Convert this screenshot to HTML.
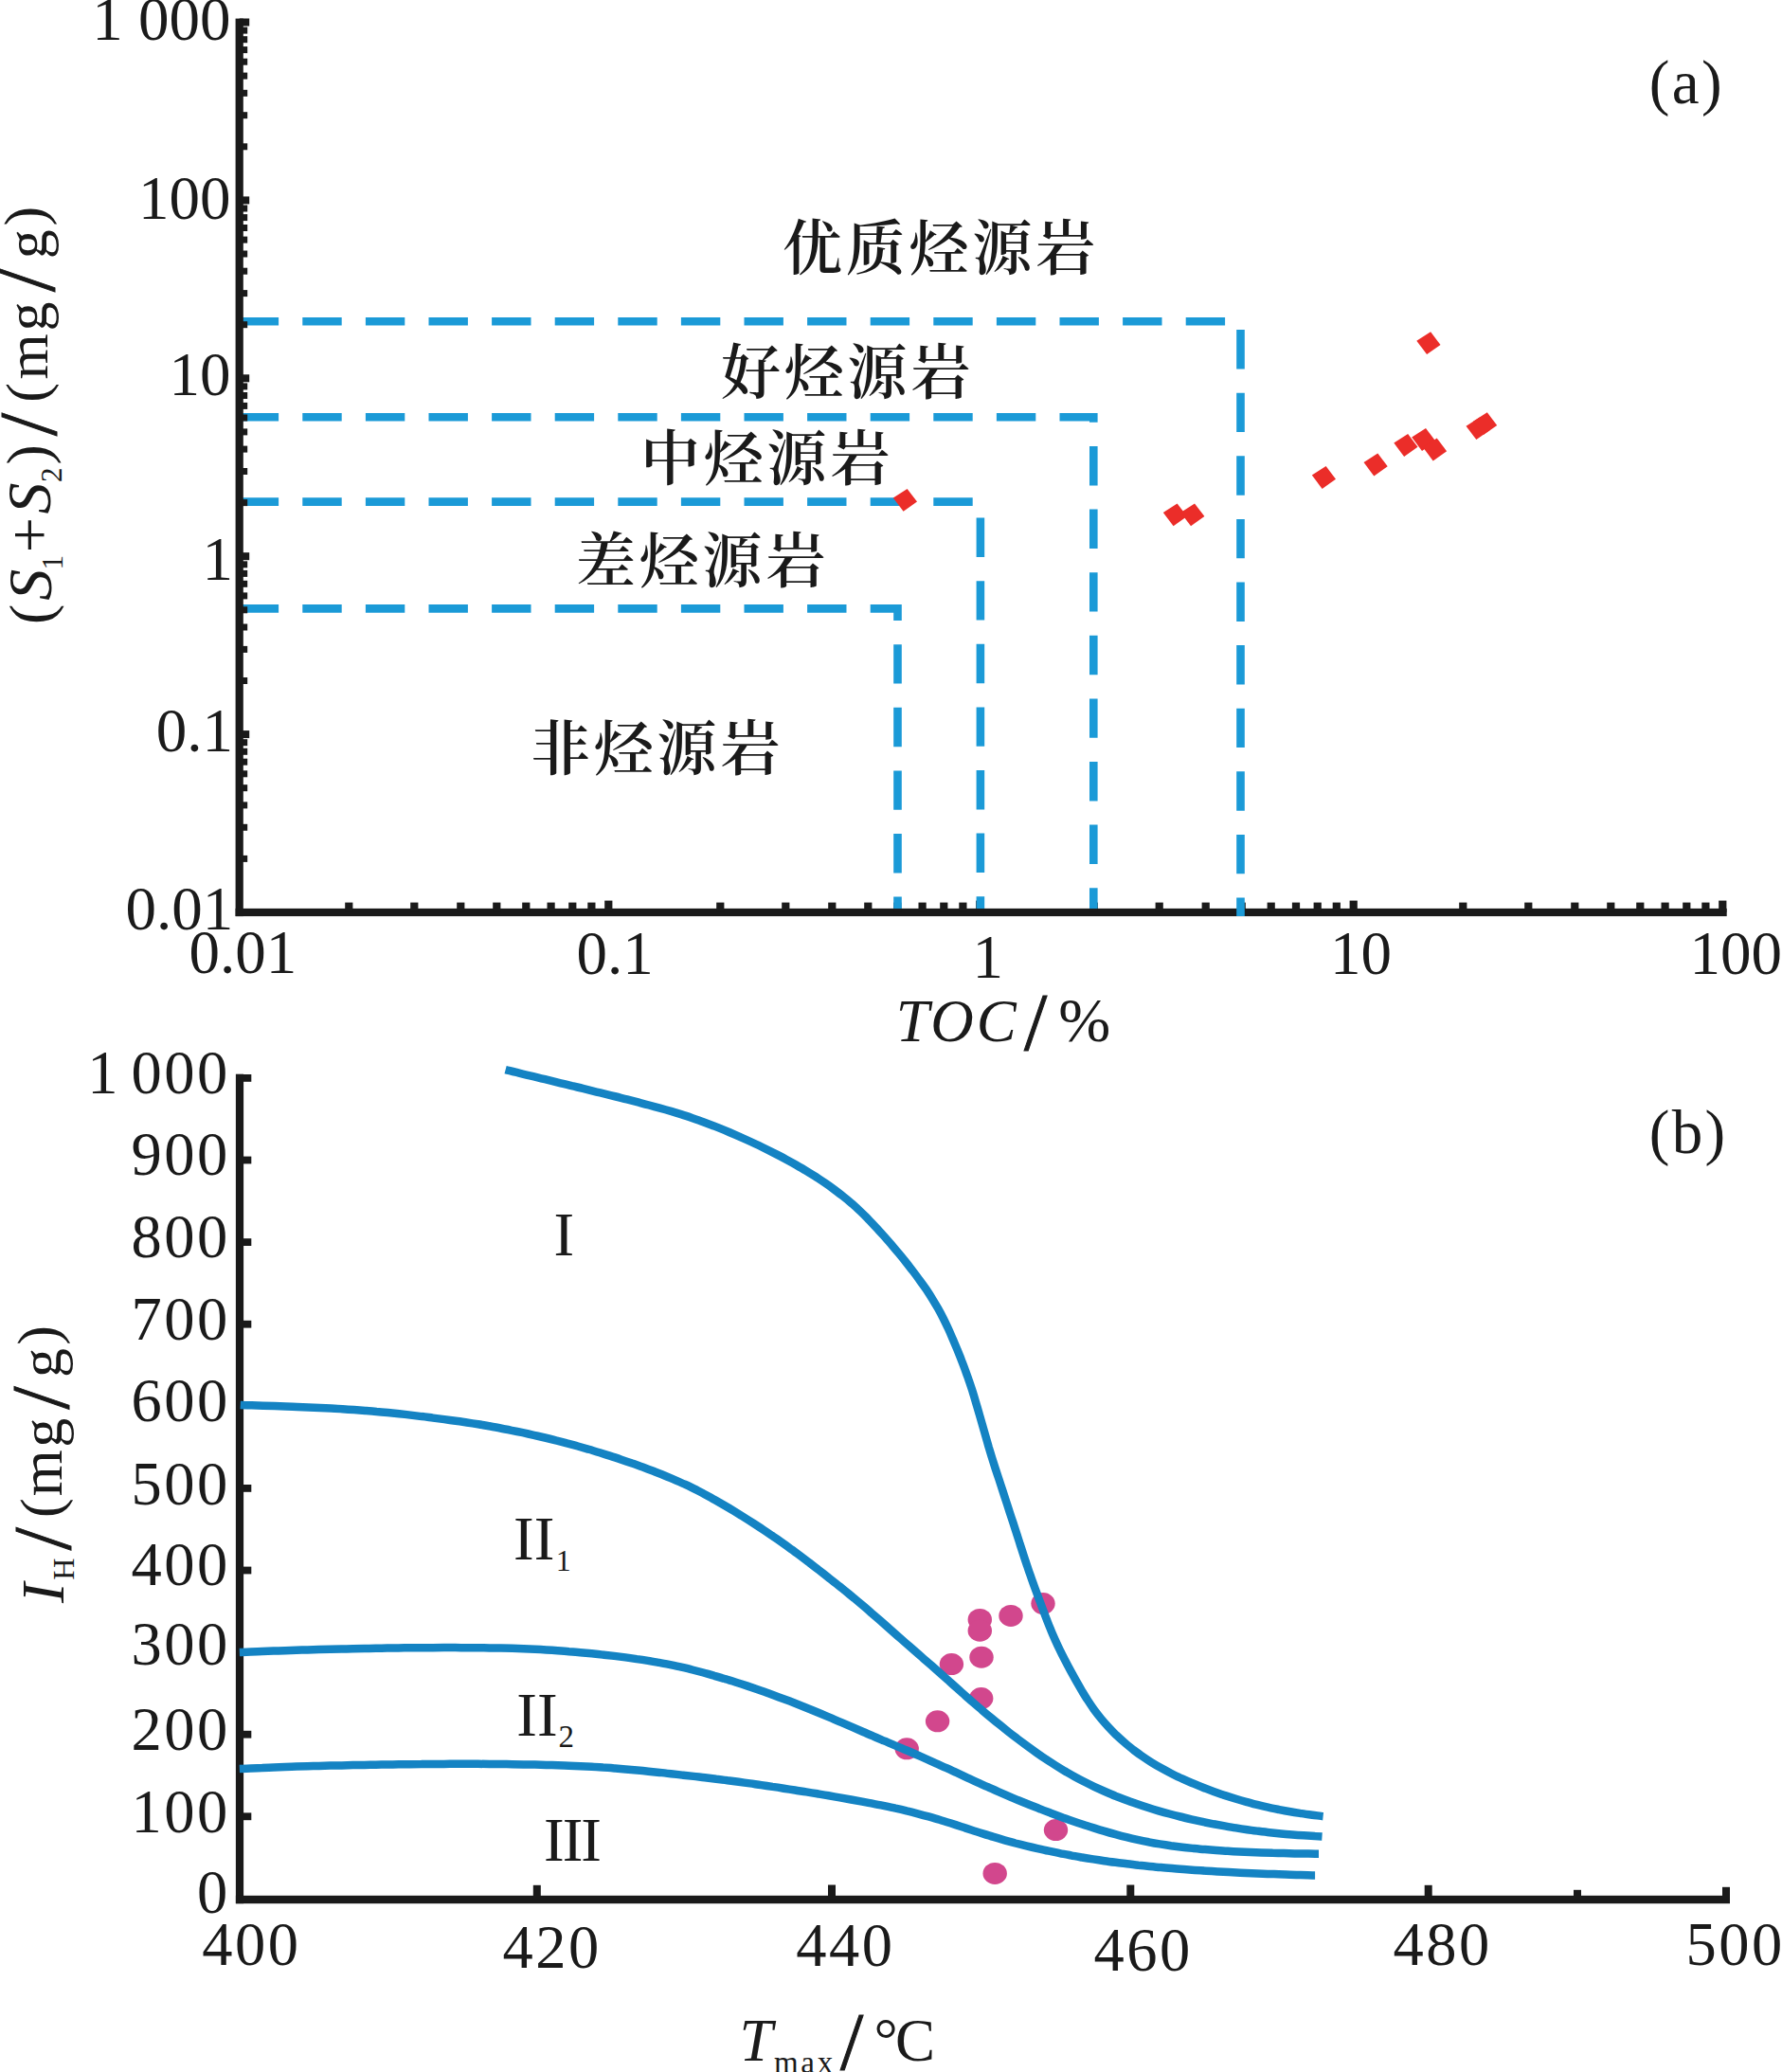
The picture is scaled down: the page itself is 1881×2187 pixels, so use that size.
<!DOCTYPE html>
<html lang="zh"><head><meta charset="utf-8"><title>Source rock evaluation</title>
<style>html,body{margin:0;padding:0;background:#fff}svg{display:block}</style></head>
<body><svg width="1881" height="2187" viewBox="0 0 1881 2187">
<rect width="1881" height="2187" fill="#fff"/>
<g fill="#1a1a1a">
<rect x="248.6" y="958.9" width="1574.1" height="8.2"/>
<rect x="364.2" y="952.6" width="8.2" height="10.3"/>
<rect x="433.2" y="952.6" width="8.2" height="10.3"/>
<rect x="482.2" y="952.6" width="8.2" height="10.3"/>
<rect x="520.2" y="952.6" width="8.2" height="10.3"/>
<rect x="551.2" y="952.6" width="8.2" height="10.3"/>
<rect x="577.5" y="952.6" width="8.2" height="10.3"/>
<rect x="600.2" y="952.6" width="8.2" height="10.3"/>
<rect x="620.3" y="952.6" width="8.2" height="10.3"/>
<rect x="638.2" y="950.6" width="8.2" height="12.3"/>
<rect x="756.2" y="952.6" width="8.2" height="10.3"/>
<rect x="825.2" y="952.6" width="8.2" height="10.3"/>
<rect x="874.2" y="952.6" width="8.2" height="10.3"/>
<rect x="912.2" y="952.6" width="8.2" height="10.3"/>
<rect x="943.2" y="952.6" width="8.2" height="10.3"/>
<rect x="969.5" y="952.6" width="8.2" height="10.3"/>
<rect x="992.2" y="952.6" width="8.2" height="10.3"/>
<rect x="1012.3" y="952.6" width="8.2" height="10.3"/>
<rect x="1030.2" y="950.6" width="8.2" height="12.3"/>
<rect x="1150.6" y="952.6" width="8.2" height="10.3"/>
<rect x="1219.6" y="952.6" width="8.2" height="10.3"/>
<rect x="1268.6" y="952.6" width="8.2" height="10.3"/>
<rect x="1306.6" y="952.6" width="8.2" height="10.3"/>
<rect x="1337.6" y="952.6" width="8.2" height="10.3"/>
<rect x="1363.9" y="952.6" width="8.2" height="10.3"/>
<rect x="1386.6" y="952.6" width="8.2" height="10.3"/>
<rect x="1406.7" y="952.6" width="8.2" height="10.3"/>
<rect x="1424.6" y="950.6" width="8.2" height="12.3"/>
<rect x="1540.2" y="952.6" width="8.2" height="10.3"/>
<rect x="1609.2" y="952.6" width="8.2" height="10.3"/>
<rect x="1658.2" y="952.6" width="8.2" height="10.3"/>
<rect x="1696.2" y="952.6" width="8.2" height="10.3"/>
<rect x="1727.2" y="952.6" width="8.2" height="10.3"/>
<rect x="1753.5" y="952.6" width="8.2" height="10.3"/>
<rect x="1776.2" y="952.6" width="8.2" height="10.3"/>
<rect x="1796.3" y="952.6" width="8.2" height="10.3"/>
<rect x="1814.2" y="950.6" width="8.2" height="12.3"/>
</g>
<g fill="none" stroke="#1b9ad7" stroke-width="8.6" stroke-dasharray="41.4 25.2" stroke-linejoin="miter">
<path d="M252.7 339.3 H1309.5 V967.1"/>
<path d="M252.7 440.2 H1154.3 V958.9"/>
<path d="M252.7 529.6 H1034.9 V958.9"/>
<path d="M252.7 642.4 H947.5 V958.9"/>
</g>
<g fill="#1a1a1a">
<rect x="248.6" y="19.6" width="8.2" height="947.5"/>
<rect x="252.7" y="902.9" width="8.5" height="7"/>
<rect x="252.7" y="869.8" width="8.5" height="7"/>
<rect x="252.7" y="846.4" width="8.5" height="7"/>
<rect x="252.7" y="828.2" width="8.5" height="7"/>
<rect x="252.7" y="813.3" width="8.5" height="7"/>
<rect x="252.7" y="800.7" width="8.5" height="7"/>
<rect x="252.7" y="789.8" width="8.5" height="7"/>
<rect x="252.7" y="780.2" width="8.5" height="7"/>
<rect x="252.7" y="771.1" width="10.5" height="8"/>
<rect x="252.7" y="715.0" width="8.5" height="7"/>
<rect x="252.7" y="681.9" width="8.5" height="7"/>
<rect x="252.7" y="658.5" width="8.5" height="7"/>
<rect x="252.7" y="640.3" width="8.5" height="7"/>
<rect x="252.7" y="625.4" width="8.5" height="7"/>
<rect x="252.7" y="612.8" width="8.5" height="7"/>
<rect x="252.7" y="601.9" width="8.5" height="7"/>
<rect x="252.7" y="592.3" width="8.5" height="7"/>
<rect x="252.7" y="583.2" width="10.5" height="8"/>
<rect x="252.7" y="527.1" width="8.5" height="7"/>
<rect x="252.7" y="494.0" width="8.5" height="7"/>
<rect x="252.7" y="470.6" width="8.5" height="7"/>
<rect x="252.7" y="452.4" width="8.5" height="7"/>
<rect x="252.7" y="437.5" width="8.5" height="7"/>
<rect x="252.7" y="424.9" width="8.5" height="7"/>
<rect x="252.7" y="414.0" width="8.5" height="7"/>
<rect x="252.7" y="404.4" width="8.5" height="7"/>
<rect x="252.7" y="395.3" width="10.5" height="8"/>
<rect x="252.7" y="339.2" width="8.5" height="7"/>
<rect x="252.7" y="306.1" width="8.5" height="7"/>
<rect x="252.7" y="282.7" width="8.5" height="7"/>
<rect x="252.7" y="264.5" width="8.5" height="7"/>
<rect x="252.7" y="249.6" width="8.5" height="7"/>
<rect x="252.7" y="237.0" width="8.5" height="7"/>
<rect x="252.7" y="226.1" width="8.5" height="7"/>
<rect x="252.7" y="216.5" width="8.5" height="7"/>
<rect x="252.7" y="207.4" width="10.5" height="8"/>
<rect x="252.7" y="151.3" width="8.5" height="7"/>
<rect x="252.7" y="118.2" width="8.5" height="7"/>
<rect x="252.7" y="94.8" width="8.5" height="7"/>
<rect x="252.7" y="76.6" width="8.5" height="7"/>
<rect x="252.7" y="61.7" width="8.5" height="7"/>
<rect x="252.7" y="49.1" width="8.5" height="7"/>
<rect x="252.7" y="38.2" width="8.5" height="7"/>
<rect x="252.7" y="28.6" width="8.5" height="7"/>
<rect x="252.7" y="19.5" width="10.5" height="8"/>
</g>
<g fill="#eb2d29">
<polygon points="1510.1,350.2 1520.5,363.9 1506.1,374.1 1495.3,359.7"/>
<polygon points="1562.3,440.2 1572.7,453.9 1558.3,464.1 1547.5,449.7"/>
<polygon points="1569.8,435.2 1580.2,448.9 1565.8,459.1 1555.0,444.7"/>
<polygon points="1486.1,458.1 1496.5,471.8 1482.1,482.0 1471.3,467.6"/>
<polygon points="1505.0,452.0 1515.4,465.7 1501.0,475.9 1490.2,461.5"/>
<polygon points="1516.7,462.6 1527.1,476.3 1512.7,486.5 1501.9,472.1"/>
<polygon points="1454.3,478.6 1464.7,492.3 1450.3,502.5 1439.5,488.1"/>
<polygon points="1399.6,492.0 1410.0,505.7 1395.6,515.9 1384.8,501.5"/>
<polygon points="1242.6,531.4 1253.0,545.1 1238.6,555.3 1227.8,540.9"/>
<polygon points="1261.0,531.4 1271.4,545.1 1257.0,555.3 1246.2,540.9"/>
<polygon points="957.6,515.9 968.0,529.6 953.6,539.8 942.8,525.4"/>
</g>
<g fill="#1a1a1a" font-family="'Liberation Serif', serif" font-size="65px">
<text x="243.6" y="41.5" text-anchor="end" >1 000</text>
<text x="243.6" y="230.6" text-anchor="end" >100</text>
<text x="243.6" y="417.2" text-anchor="end" >10</text>
<text x="246.0" y="611.9" text-anchor="end" >1</text>
<text x="246.0" y="792.9" text-anchor="end" >0.1</text>
<text x="246.3" y="981.4" text-anchor="end" >0.01</text>
<text x="199.5" y="1026.7" text-anchor="start" >0.01</text>
<text x="608.5" y="1027.7" text-anchor="start" >0.1</text>
<text x="1026.5" y="1031.7" text-anchor="start" >1</text>
<text x="1404.0" y="1027.7" text-anchor="start" >10</text>
<text x="1783.5" y="1028.3" text-anchor="start" >100</text>
</g>
<g fill="#1a1a1a" font-family="'Liberation Serif', serif" font-size="65px" letter-spacing="2.3">
<text x="1740.8" y="108.8" text-anchor="start" >(a)</text>
<text x="1740.8" y="1217.2" text-anchor="start" >(b)</text>
</g>
<g fill="#1a1a1a" font-family="'Liberation Serif', serif" font-size="64.5px" letter-spacing="2.5">
<text x="242.8" y="1153.9" text-anchor="end" word-spacing="-7">1 000</text>
<text x="242.8" y="1240.3" text-anchor="end" >900</text>
<text x="242.8" y="1326.7" text-anchor="end" >800</text>
<text x="242.8" y="1414.3" text-anchor="end" >700</text>
<text x="242.8" y="1499.8" text-anchor="end" >600</text>
<text x="242.8" y="1588.2" text-anchor="end" >500</text>
<text x="242.8" y="1673.1" text-anchor="end" >400</text>
<text x="242.8" y="1757.2" text-anchor="end" >300</text>
<text x="242.8" y="1846.5" text-anchor="end" >200</text>
<text x="242.8" y="1934.3" text-anchor="end" >100</text>
<text x="242.8" y="2019.3" text-anchor="end" >0</text>
<text x="213.3" y="2073.7" text-anchor="start" >400</text>
<text x="530.5" y="2077.3" text-anchor="start" >420</text>
<text x="840.3" y="2075.0" text-anchor="start" >440</text>
<text x="1154.6" y="2080.0" text-anchor="start" >460</text>
<text x="1470.6" y="2074.3" text-anchor="start" >480</text>
<text x="1779.6" y="2074.3" text-anchor="start" >500</text>
</g>
<g fill="#1a1a1a" font-family="'Liberation Serif', serif" font-size="65px">
<text x="584.5" y="1325.0" text-anchor="start" >I</text>
<text x="542.0" y="1645.5" text-anchor="start" >II</text>
<text x="545.3" y="1831.6" text-anchor="start" >II</text>
<text x="574.0" y="1964.0" text-anchor="start" letter-spacing="-2">III</text>
<text x="586.8" y="1657.6" text-anchor="start" font-size="32px">1</text>
<text x="589.5" y="1844.1" text-anchor="start" font-size="33px">2</text>
</g>
<g fill="#1a1a1a" font-family="'Liberation Serif', 'Noto Serif CJK SC', serif" font-size="63px" font-weight="600" letter-spacing="3.8">
<text x="826.0" y="284.0" text-anchor="start" >优质烃源岩</text>
<text x="761.0" y="415.0" text-anchor="start" >好烃源岩</text>
<text x="676.0" y="505.5" text-anchor="start" >中烃源岩</text>
<text x="608.0" y="614.0" text-anchor="start" >差烃源岩</text>
<text x="560.0" y="811.5" text-anchor="start" >非烃源岩</text>
</g>
<g fill="#1a1a1a" font-family="'Liberation Serif', serif">
<text x="945.7" y="1099.3" font-size="63px" font-style="italic">T</text>
<text x="982.2" y="1099.0" font-size="63px" font-style="italic">O</text>
<text x="1030.8" y="1098.8" font-size="63px" font-style="italic">C</text>
<text x="1081.0" y="1108.3" font-size="87px" stroke="#1a1a1a" stroke-width="1">/</text>
<text x="1117.3" y="1099.3" font-size="66px">%</text>
<text x="780.5" y="2175.1" font-size="63px" font-style="italic">T</text>
<text x="887.1" y="2184.0" font-size="87px" stroke="#1a1a1a" stroke-width="1">/</text>
<text x="922.4" y="2174.4" font-size="63px">°</text>
<text x="944.9" y="2175.2" font-size="63px">C</text>
<text x="817" y="2187.5" font-size="33px" letter-spacing="2.7">max</text>
</g>
<g transform="rotate(-90)" fill="#1a1a1a" font-family="'Liberation Serif', serif">
<text x="-659.0" y="53.5" font-size="64px">(</text>
<text x="-633.7" y="53.5" font-size="66px" font-style="italic">S</text>
<text x="-601.4" y="66.0" font-size="31px">1</text>
<text x="-583.2" y="53.4" font-size="66px">+</text>
<text x="-542.6" y="52.9" font-size="66px" font-style="italic">S</text>
<text x="-508.9" y="64.5" font-size="31px">2</text>
<text x="-490.6" y="51.4" font-size="64px">)</text>
<text x="-460.0" y="59.3" font-size="87px" stroke="#1a1a1a" stroke-width="1">/</text>
<text x="-424.8" y="49.3" font-size="62px">(</text>
<text x="-400.4" y="49.9" font-size="62px">m</text>
<text x="-349.5" y="49.2" font-size="62px">g</text>
<text x="-307.9" y="57.0" font-size="87px" stroke="#1a1a1a" stroke-width="1">/</text>
<text x="-273.3" y="49.0" font-size="62px">g</text>
<text x="-238.4" y="46.7" font-size="62px">)</text>
</g>
<g transform="rotate(-90)" fill="#1a1a1a" font-family="'Liberation Serif', serif">
<text x="-1692.0" y="66.5" font-size="64px" font-style="italic">I</text>
<text x="-1667.8" y="78.0" font-size="32px">H</text>
<text x="-1636.3" y="74.2" font-size="87px" stroke="#1a1a1a" stroke-width="1">/</text>
<text x="-1601.9" y="64.1" font-size="62px">(</text>
<text x="-1579.3" y="65.4" font-size="63px">m</text>
<text x="-1527.8" y="65.0" font-size="62px">g</text>
<text x="-1487.5" y="72.1" font-size="87px" stroke="#1a1a1a" stroke-width="1">/</text>
<text x="-1454.0" y="64.2" font-size="62px">g</text>
<text x="-1419.7" y="61.2" font-size="62px">)</text>
</g>
<g fill="#d2478d">
<ellipse cx="1101.0" cy="1692.6" rx="12.7" ry="11.5"/>
<ellipse cx="1067.0" cy="1705.4" rx="12.7" ry="11.5"/>
<ellipse cx="1034.3" cy="1709.4" rx="12.7" ry="11.5"/>
<ellipse cx="1034.3" cy="1721.2" rx="12.7" ry="11.5"/>
<ellipse cx="1004.4" cy="1756.6" rx="12.7" ry="11.5"/>
<ellipse cx="1036.0" cy="1749.2" rx="12.7" ry="11.5"/>
<ellipse cx="1035.7" cy="1792.6" rx="12.7" ry="11.5"/>
<ellipse cx="989.6" cy="1816.8" rx="12.7" ry="11.5"/>
<ellipse cx="957.2" cy="1845.8" rx="12.7" ry="11.5"/>
<ellipse cx="1114.5" cy="1931.6" rx="12.7" ry="11.5"/>
<ellipse cx="1050.2" cy="1977.4" rx="12.7" ry="11.5"/>
</g>
<g fill="#1a1a1a">
<rect x="248.9" y="1133.7" width="8.2" height="875.5"/>
<rect x="248.9" y="2000.8" width="1577.1" height="8.4"/>
<rect x="253.0" y="1913.4" width="12.3" height="7.8"/>
<rect x="253.0" y="1826.8" width="12.3" height="7.8"/>
<rect x="253.0" y="1653.6" width="12.3" height="7.8"/>
<rect x="253.0" y="1567.0" width="12.3" height="7.8"/>
<rect x="253.0" y="1393.8" width="12.3" height="7.8"/>
<rect x="253.0" y="1307.2" width="12.3" height="7.8"/>
<rect x="253.0" y="1220.6" width="12.3" height="7.8"/>
<rect x="253.0" y="1134.0" width="12.3" height="7.8"/>
<rect x="562.8" y="1989.8" width="8" height="15.0"/>
<rect x="874.0" y="1989.5" width="8" height="15.3"/>
<rect x="1189.3" y="1989.5" width="8" height="15.3"/>
<rect x="1503.7" y="1989.8" width="8" height="15.0"/>
<rect x="1661.0" y="1994.8" width="8" height="10.0"/>
<rect x="1818.0" y="1991.8" width="8" height="13.0"/>
</g>
<g fill="none" stroke="#1483c3" stroke-width="8.5">
<path d="M533.6 1129.1 C535.5 1129.6 541.4 1131.0 545.3 1131.9 C549.1 1132.9 553.0 1133.8 556.9 1134.8 C560.8 1135.7 564.7 1136.7 568.6 1137.6 C572.5 1138.5 576.4 1139.5 580.2 1140.4 C584.1 1141.4 588.0 1142.3 591.9 1143.3 C595.8 1144.2 599.7 1145.1 603.6 1146.1 C607.5 1147.0 611.3 1148.0 615.2 1148.9 C619.1 1149.9 623.0 1150.8 626.9 1151.8 C630.8 1152.7 634.7 1153.7 638.5 1154.6 C642.4 1155.6 646.3 1156.5 650.2 1157.5 C654.1 1158.5 658.0 1159.4 661.8 1160.4 C665.7 1161.4 669.6 1162.4 673.5 1163.4 C677.3 1164.4 681.2 1165.4 685.1 1166.5 C688.9 1167.5 692.8 1168.6 696.6 1169.6 C700.5 1170.7 704.3 1171.8 708.2 1172.9 C712.0 1174.1 715.8 1175.2 719.6 1176.4 C723.4 1177.6 727.2 1178.9 731.0 1180.2 C734.8 1181.5 738.6 1182.8 742.3 1184.2 C746.1 1185.6 749.8 1187.0 753.5 1188.4 C757.3 1189.9 761.0 1191.4 764.7 1192.9 C768.4 1194.5 772.0 1196.0 775.7 1197.6 C779.4 1199.2 783.0 1200.8 786.7 1202.5 C790.3 1204.1 794.0 1205.8 797.6 1207.5 C801.2 1209.2 804.8 1210.9 808.4 1212.7 C812.0 1214.5 815.6 1216.3 819.1 1218.1 C822.7 1219.9 826.2 1221.8 829.7 1223.7 C833.3 1225.6 836.8 1227.5 840.2 1229.5 C843.7 1231.5 847.2 1233.5 850.6 1235.6 C854.0 1237.7 857.4 1239.8 860.8 1241.9 C864.1 1244.1 867.5 1246.3 870.8 1248.6 C874.1 1250.8 877.3 1253.1 880.5 1255.5 C883.7 1257.9 886.9 1260.3 890.0 1262.8 C893.2 1265.3 896.2 1267.8 899.3 1270.4 C902.3 1273.1 905.2 1275.8 908.1 1278.5 C911.0 1281.2 913.8 1284.1 916.6 1286.9 C919.4 1289.8 922.1 1292.7 924.8 1295.6 C927.6 1298.6 930.2 1301.5 932.9 1304.5 C935.5 1307.5 938.2 1310.5 940.8 1313.5 C943.4 1316.6 946.0 1319.6 948.5 1322.7 C951.1 1325.8 953.6 1328.9 956.1 1332.0 C958.6 1335.1 961.0 1338.3 963.5 1341.5 C965.9 1344.6 968.3 1347.8 970.6 1351.1 C973.0 1354.3 975.3 1357.5 977.6 1360.8 C979.8 1364.1 982.0 1367.5 984.1 1370.9 C986.2 1374.3 988.2 1377.7 990.2 1381.2 C992.1 1384.6 994.0 1388.2 995.8 1391.7 C997.6 1395.3 999.3 1398.9 1001.0 1402.5 C1002.7 1406.2 1004.2 1409.8 1005.8 1413.5 C1007.4 1417.2 1008.9 1420.9 1010.5 1424.6 C1012.0 1428.3 1013.5 1432.0 1014.9 1435.7 C1016.3 1439.4 1017.8 1443.2 1019.1 1446.9 C1020.5 1450.7 1021.9 1454.4 1023.1 1458.2 C1024.4 1462.0 1025.7 1465.8 1026.9 1469.6 C1028.1 1473.4 1029.2 1477.3 1030.3 1481.1 C1031.5 1484.9 1032.6 1488.8 1033.7 1492.6 C1034.8 1496.5 1035.9 1500.3 1037.0 1504.2 C1038.1 1508.0 1039.2 1511.9 1040.3 1515.7 C1041.4 1519.5 1042.5 1523.4 1043.6 1527.2 C1044.8 1531.0 1045.9 1534.9 1047.1 1538.7 C1048.3 1542.5 1049.5 1546.3 1050.7 1550.1 C1052.0 1553.9 1053.2 1557.7 1054.5 1561.5 C1055.7 1565.3 1057.0 1569.1 1058.2 1572.9 C1059.4 1576.7 1060.7 1580.5 1061.9 1584.3 C1063.2 1588.1 1064.4 1592.0 1065.6 1595.8 C1066.9 1599.6 1068.1 1603.4 1069.4 1607.2 C1070.6 1611.0 1071.8 1614.8 1073.1 1618.6 C1074.3 1622.4 1075.5 1626.2 1076.7 1630.0 C1078.0 1633.8 1079.2 1637.6 1080.4 1641.4 C1081.6 1645.2 1082.9 1649.0 1084.2 1652.8 C1085.4 1656.6 1086.7 1660.4 1088.1 1664.1 C1089.4 1667.9 1090.8 1671.7 1092.1 1675.4 C1093.5 1679.2 1094.9 1682.9 1096.3 1686.7 C1097.7 1690.4 1099.1 1694.2 1100.5 1697.9 C1101.9 1701.7 1103.3 1705.4 1104.7 1709.1 C1106.2 1712.9 1107.6 1716.6 1109.2 1720.3 C1110.7 1724.0 1112.3 1727.6 1113.9 1731.3 C1115.5 1734.9 1117.2 1738.5 1119.0 1742.1 C1120.7 1745.7 1122.6 1749.3 1124.4 1752.8 C1126.2 1756.4 1128.1 1759.9 1130.0 1763.4 C1131.9 1766.9 1133.9 1770.4 1135.8 1773.9 C1137.8 1777.4 1139.8 1780.9 1141.8 1784.3 C1143.9 1787.8 1145.9 1791.2 1148.1 1794.5 C1150.3 1797.9 1152.5 1801.2 1154.8 1804.4 C1157.2 1807.6 1159.6 1810.7 1162.1 1813.8 C1164.7 1816.9 1167.3 1819.9 1170.0 1822.8 C1172.7 1825.7 1175.5 1828.6 1178.3 1831.4 C1181.2 1834.1 1184.2 1836.8 1187.2 1839.4 C1190.2 1842.0 1193.3 1844.5 1196.4 1847.0 C1199.6 1849.4 1202.8 1851.8 1206.1 1854.0 C1209.4 1856.3 1212.7 1858.5 1216.1 1860.6 C1219.5 1862.7 1222.9 1864.7 1226.4 1866.6 C1229.9 1868.6 1233.4 1870.4 1237.0 1872.2 C1240.6 1874.0 1244.2 1875.8 1247.8 1877.4 C1251.4 1879.1 1255.1 1880.7 1258.8 1882.2 C1262.5 1883.8 1266.2 1885.3 1269.9 1886.7 C1273.6 1888.2 1277.4 1889.6 1281.1 1890.9 C1284.9 1892.3 1288.7 1893.6 1292.4 1894.9 C1296.2 1896.1 1300.0 1897.3 1303.9 1898.5 C1307.7 1899.7 1311.5 1900.8 1315.4 1901.8 C1319.2 1902.9 1323.1 1903.9 1327.0 1904.9 C1330.9 1905.9 1334.7 1906.8 1338.6 1907.6 C1342.5 1908.5 1346.5 1909.3 1350.4 1910.1 C1354.3 1910.9 1358.2 1911.6 1362.1 1912.2 C1366.0 1912.9 1369.9 1913.5 1373.7 1914.1 C1377.6 1914.7 1381.4 1915.2 1385.2 1915.7 C1389.1 1916.2 1394.7 1917.0 1396.6 1917.2"/>
<path d="M253.7 1483.0 C255.7 1483.1 261.7 1483.2 265.7 1483.3 C269.7 1483.4 273.7 1483.6 277.7 1483.7 C281.7 1483.8 285.7 1483.9 289.7 1484.0 C293.7 1484.2 297.7 1484.3 301.7 1484.5 C305.7 1484.6 309.7 1484.7 313.7 1484.9 C317.7 1485.1 321.7 1485.2 325.7 1485.4 C329.7 1485.6 333.7 1485.8 337.7 1486.0 C341.6 1486.2 345.6 1486.4 349.6 1486.6 C353.6 1486.8 357.6 1487.0 361.6 1487.3 C365.6 1487.5 369.6 1487.8 373.6 1488.0 C377.6 1488.3 381.6 1488.6 385.6 1488.9 C389.5 1489.2 393.5 1489.5 397.5 1489.9 C401.5 1490.2 405.5 1490.6 409.4 1491.0 C413.4 1491.4 417.4 1491.8 421.4 1492.2 C425.4 1492.7 429.3 1493.1 433.3 1493.6 C437.3 1494.1 441.2 1494.6 445.2 1495.1 C449.2 1495.5 453.1 1496.1 457.1 1496.6 C461.1 1497.1 465.1 1497.6 469.0 1498.1 C473.0 1498.7 476.9 1499.2 480.9 1499.8 C484.9 1500.3 488.8 1500.9 492.8 1501.5 C496.7 1502.1 500.7 1502.7 504.6 1503.3 C508.6 1503.9 512.5 1504.6 516.5 1505.3 C520.4 1506.0 524.3 1506.7 528.3 1507.5 C532.2 1508.2 536.1 1509.0 540.0 1509.8 C543.9 1510.6 547.9 1511.4 551.8 1512.2 C555.7 1513.1 559.6 1513.9 563.5 1514.8 C567.4 1515.7 571.3 1516.6 575.2 1517.5 C579.1 1518.4 583.0 1519.4 586.8 1520.4 C590.7 1521.3 594.6 1522.3 598.4 1523.4 C602.3 1524.4 606.2 1525.5 610.0 1526.5 C613.9 1527.6 617.7 1528.7 621.5 1529.8 C625.4 1531.0 629.2 1532.1 633.0 1533.3 C636.8 1534.5 640.7 1535.7 644.5 1536.9 C648.3 1538.1 652.1 1539.4 655.9 1540.7 C659.6 1541.9 663.4 1543.2 667.2 1544.6 C671.0 1545.9 674.7 1547.3 678.5 1548.6 C682.2 1550.0 686.0 1551.4 689.7 1552.8 C693.4 1554.3 697.2 1555.7 700.9 1557.2 C704.6 1558.7 708.3 1560.3 711.9 1561.8 C715.6 1563.4 719.2 1565.1 722.9 1566.7 C726.5 1568.4 730.1 1570.1 733.7 1571.9 C737.2 1573.7 740.8 1575.5 744.3 1577.4 C747.8 1579.3 751.3 1581.2 754.8 1583.2 C758.3 1585.2 761.7 1587.2 765.2 1589.2 C768.6 1591.2 772.1 1593.3 775.5 1595.3 C778.9 1597.4 782.3 1599.5 785.7 1601.7 C789.1 1603.8 792.4 1605.9 795.8 1608.1 C799.2 1610.3 802.5 1612.5 805.8 1614.7 C809.2 1616.9 812.5 1619.2 815.8 1621.4 C819.1 1623.7 822.3 1626.0 825.6 1628.3 C828.9 1630.6 832.1 1632.9 835.3 1635.3 C838.6 1637.6 841.8 1640.0 845.0 1642.4 C848.2 1644.8 851.4 1647.2 854.6 1649.6 C857.7 1652.1 860.9 1654.5 864.1 1657.0 C867.2 1659.4 870.4 1661.9 873.5 1664.3 C876.7 1666.8 879.8 1669.3 882.9 1671.8 C886.1 1674.3 889.2 1676.8 892.3 1679.3 C895.4 1681.8 898.5 1684.4 901.6 1686.9 C904.6 1689.5 907.7 1692.1 910.7 1694.6 C913.8 1697.2 916.8 1699.8 919.8 1702.5 C922.9 1705.1 925.9 1707.7 928.9 1710.3 C931.9 1713.0 934.9 1715.6 937.9 1718.3 C940.9 1720.9 943.9 1723.6 946.9 1726.2 C949.9 1728.8 952.9 1731.5 955.9 1734.1 C958.9 1736.7 962.0 1739.4 965.0 1742.0 C968.0 1744.6 971.0 1747.2 974.0 1749.9 C977.1 1752.5 980.1 1755.1 983.1 1757.7 C986.1 1760.4 989.1 1763.0 992.1 1765.7 C995.1 1768.3 998.0 1771.0 1001.0 1773.7 C1004.0 1776.4 1007.0 1779.0 1009.9 1781.7 C1012.9 1784.4 1015.9 1787.1 1018.9 1789.7 C1021.9 1792.4 1024.9 1795.0 1027.9 1797.6 C1030.9 1800.2 1033.9 1802.8 1037.0 1805.4 C1040.0 1808.0 1043.1 1810.6 1046.2 1813.1 C1049.3 1815.7 1052.3 1818.2 1055.5 1820.7 C1058.6 1823.2 1061.7 1825.7 1064.8 1828.2 C1068.0 1830.7 1071.2 1833.1 1074.3 1835.5 C1077.5 1837.9 1080.7 1840.3 1083.9 1842.7 C1087.2 1845.1 1090.4 1847.4 1093.7 1849.7 C1096.9 1852.0 1100.2 1854.3 1103.6 1856.5 C1106.9 1858.7 1110.2 1860.9 1113.6 1863.0 C1117.0 1865.1 1120.4 1867.2 1123.8 1869.3 C1127.3 1871.3 1130.7 1873.3 1134.2 1875.2 C1137.7 1877.1 1141.2 1879.0 1144.8 1880.8 C1148.3 1882.6 1151.9 1884.4 1155.5 1886.1 C1159.2 1887.8 1162.8 1889.4 1166.4 1891.0 C1170.1 1892.6 1173.8 1894.2 1177.5 1895.7 C1181.2 1897.1 1184.9 1898.6 1188.7 1900.0 C1192.4 1901.4 1196.2 1902.7 1200.0 1904.0 C1203.7 1905.3 1207.5 1906.6 1211.3 1907.8 C1215.1 1909.0 1219.0 1910.2 1222.8 1911.3 C1226.6 1912.4 1230.5 1913.5 1234.3 1914.5 C1238.2 1915.6 1242.1 1916.6 1245.9 1917.5 C1249.8 1918.5 1253.7 1919.4 1257.6 1920.3 C1261.5 1921.2 1265.4 1922.0 1269.3 1922.9 C1273.2 1923.7 1277.1 1924.5 1281.1 1925.3 C1285.0 1926.0 1288.9 1926.7 1292.9 1927.4 C1296.8 1928.1 1300.7 1928.8 1304.7 1929.4 C1308.6 1930.1 1312.6 1930.7 1316.5 1931.2 C1320.5 1931.8 1324.5 1932.3 1328.4 1932.8 C1332.4 1933.3 1336.4 1933.8 1340.3 1934.2 C1344.3 1934.6 1348.3 1935.0 1352.2 1935.4 C1356.2 1935.8 1360.1 1936.1 1364.1 1936.4 C1368.0 1936.8 1372.0 1937.1 1375.9 1937.3 C1379.8 1937.6 1384.4 1937.9 1387.7 1938.1 C1390.9 1938.3 1394.2 1938.5 1395.5 1938.6"/>
<path d="M252.8 1744.1 C254.8 1744.0 260.8 1743.8 264.8 1743.6 C268.8 1743.4 272.8 1743.2 276.8 1743.1 C280.8 1742.9 284.8 1742.8 288.8 1742.6 C292.8 1742.4 296.8 1742.3 300.8 1742.2 C304.8 1742.0 308.8 1741.9 312.8 1741.7 C316.8 1741.6 320.7 1741.5 324.7 1741.4 C328.7 1741.3 332.7 1741.1 336.7 1741.0 C340.7 1740.9 344.7 1740.8 348.7 1740.7 C352.7 1740.6 356.7 1740.5 360.7 1740.4 C364.7 1740.4 368.7 1740.3 372.7 1740.2 C376.7 1740.1 380.7 1740.0 384.7 1739.9 C388.7 1739.9 392.7 1739.8 396.7 1739.7 C400.7 1739.7 404.7 1739.6 408.7 1739.6 C412.7 1739.5 416.7 1739.4 420.7 1739.4 C424.7 1739.4 428.7 1739.3 432.7 1739.3 C436.7 1739.3 440.7 1739.2 444.7 1739.2 C448.7 1739.2 452.7 1739.2 456.7 1739.2 C460.7 1739.1 464.7 1739.1 468.7 1739.1 C472.7 1739.1 476.7 1739.1 480.7 1739.1 C484.7 1739.1 488.7 1739.2 492.7 1739.2 C496.7 1739.2 500.7 1739.2 504.7 1739.2 C508.7 1739.3 512.7 1739.3 516.7 1739.4 C520.7 1739.4 524.7 1739.5 528.7 1739.5 C532.7 1739.6 536.7 1739.7 540.7 1739.8 C544.7 1739.9 548.7 1740.1 552.7 1740.2 C556.7 1740.4 560.7 1740.5 564.7 1740.7 C568.7 1740.9 572.7 1741.2 576.7 1741.4 C580.7 1741.7 584.6 1741.9 588.6 1742.2 C592.6 1742.5 596.6 1742.8 600.6 1743.2 C604.6 1743.5 608.6 1743.8 612.5 1744.2 C616.5 1744.6 620.5 1744.9 624.5 1745.3 C628.5 1745.7 632.4 1746.1 636.4 1746.6 C640.4 1747.0 644.4 1747.5 648.3 1747.9 C652.3 1748.4 656.3 1748.9 660.2 1749.4 C664.2 1749.9 668.2 1750.5 672.1 1751.1 C676.1 1751.6 680.0 1752.2 684.0 1752.9 C687.9 1753.5 691.8 1754.2 695.8 1754.9 C699.7 1755.6 703.6 1756.4 707.5 1757.2 C711.4 1758.0 715.3 1758.8 719.2 1759.7 C723.1 1760.6 727.0 1761.5 730.9 1762.5 C734.8 1763.5 738.6 1764.5 742.5 1765.5 C746.3 1766.6 750.2 1767.6 754.0 1768.8 C757.9 1769.9 761.7 1771.0 765.5 1772.2 C769.4 1773.3 773.2 1774.5 777.0 1775.7 C780.8 1776.9 784.6 1778.2 788.4 1779.4 C792.2 1780.7 796.0 1782.0 799.7 1783.3 C803.5 1784.6 807.3 1785.9 811.1 1787.3 C814.8 1788.6 818.6 1790.0 822.3 1791.4 C826.1 1792.8 829.8 1794.2 833.6 1795.6 C837.3 1797.1 841.0 1798.5 844.7 1800.0 C848.4 1801.5 852.2 1803.0 855.9 1804.5 C859.6 1806.0 863.3 1807.5 866.9 1809.0 C870.6 1810.6 874.3 1812.1 878.0 1813.7 C881.7 1815.3 885.3 1816.9 889.0 1818.4 C892.7 1820.0 896.4 1821.6 900.0 1823.2 C903.7 1824.8 907.4 1826.4 911.1 1828.0 C914.7 1829.5 918.4 1831.1 922.1 1832.7 C925.8 1834.2 929.4 1835.8 933.1 1837.4 C936.8 1838.9 940.5 1840.5 944.2 1842.1 C947.9 1843.6 951.5 1845.2 955.2 1846.8 C958.9 1848.3 962.6 1849.9 966.2 1851.5 C969.9 1853.1 973.5 1854.7 977.2 1856.3 C980.9 1858.0 984.5 1859.6 988.2 1861.3 C991.8 1862.9 995.4 1864.6 999.1 1866.2 C1002.7 1867.9 1006.3 1869.6 1010.0 1871.2 C1013.6 1872.9 1017.2 1874.6 1020.9 1876.3 C1024.5 1878.0 1028.1 1879.6 1031.8 1881.3 C1035.4 1882.9 1039.0 1884.6 1042.7 1886.2 C1046.3 1887.9 1050.0 1889.5 1053.7 1891.1 C1057.3 1892.7 1061.0 1894.3 1064.7 1895.9 C1068.3 1897.4 1072.0 1899.0 1075.7 1900.5 C1079.4 1902.0 1083.1 1903.5 1086.8 1905.0 C1090.6 1906.5 1094.3 1908.0 1098.0 1909.4 C1101.7 1910.9 1105.5 1912.3 1109.2 1913.7 C1112.9 1915.1 1116.7 1916.5 1120.5 1917.9 C1124.2 1919.2 1128.0 1920.6 1131.8 1921.9 C1135.5 1923.2 1139.3 1924.5 1143.1 1925.7 C1146.9 1927.0 1150.7 1928.2 1154.5 1929.4 C1158.3 1930.6 1162.2 1931.8 1166.0 1932.9 C1169.8 1934.1 1173.7 1935.2 1177.5 1936.2 C1181.4 1937.3 1185.2 1938.3 1189.1 1939.2 C1193.0 1940.2 1196.9 1941.1 1200.8 1941.9 C1204.7 1942.8 1208.6 1943.6 1212.5 1944.3 C1216.4 1945.1 1220.3 1945.8 1224.3 1946.4 C1228.2 1947.0 1232.2 1947.6 1236.1 1948.2 C1240.1 1948.7 1244.0 1949.2 1248.0 1949.7 C1252.0 1950.2 1256.0 1950.6 1259.9 1951.0 C1263.9 1951.4 1267.9 1951.8 1271.9 1952.1 C1275.9 1952.4 1279.8 1952.7 1283.8 1953.0 C1287.8 1953.3 1291.8 1953.6 1295.8 1953.8 C1299.8 1954.0 1303.8 1954.3 1307.8 1954.5 C1311.8 1954.7 1315.7 1954.8 1319.7 1955.0 C1323.7 1955.2 1327.7 1955.3 1331.6 1955.5 C1335.6 1955.6 1339.5 1955.7 1343.4 1955.8 C1347.3 1955.9 1351.2 1956.0 1355.1 1956.1 C1358.9 1956.2 1362.7 1956.3 1366.4 1956.4 C1370.2 1956.4 1373.9 1956.5 1377.5 1956.6 C1381.2 1956.6 1386.0 1956.7 1388.4 1956.7 C1390.8 1956.8 1391.4 1956.8 1392.0 1956.8"/>
<path d="M252.8 1867.0 C254.8 1866.9 260.8 1866.7 264.8 1866.5 C268.8 1866.3 272.8 1866.1 276.8 1866.0 C280.8 1865.8 284.8 1865.6 288.8 1865.5 C292.8 1865.3 296.8 1865.2 300.8 1865.0 C304.8 1864.9 308.8 1864.8 312.8 1864.6 C316.7 1864.5 320.7 1864.4 324.7 1864.3 C328.7 1864.2 332.7 1864.0 336.7 1863.9 C340.7 1863.8 344.7 1863.7 348.7 1863.6 C352.7 1863.5 356.7 1863.4 360.7 1863.4 C364.7 1863.3 368.7 1863.2 372.7 1863.1 C376.7 1863.0 380.7 1863.0 384.7 1862.9 C388.7 1862.8 392.7 1862.8 396.7 1862.7 C400.7 1862.6 404.7 1862.6 408.7 1862.5 C412.7 1862.4 416.7 1862.4 420.7 1862.3 C424.7 1862.3 428.7 1862.2 432.7 1862.2 C436.7 1862.1 440.7 1862.1 444.7 1862.1 C448.7 1862.0 452.7 1862.0 456.7 1862.0 C460.7 1861.9 464.7 1861.9 468.7 1861.9 C472.7 1861.9 476.7 1861.8 480.7 1861.8 C484.7 1861.8 488.7 1861.8 492.7 1861.8 C496.7 1861.8 500.7 1861.8 504.7 1861.8 C508.7 1861.9 512.7 1861.9 516.7 1861.9 C520.7 1861.9 524.7 1862.0 528.7 1862.0 C532.7 1862.1 536.7 1862.1 540.7 1862.2 C544.7 1862.2 548.7 1862.3 552.7 1862.4 C556.7 1862.5 560.7 1862.5 564.7 1862.6 C568.7 1862.7 572.7 1862.8 576.7 1862.9 C580.7 1863.0 584.7 1863.2 588.7 1863.3 C592.7 1863.4 596.7 1863.5 600.7 1863.7 C604.7 1863.9 608.7 1864.0 612.7 1864.2 C616.7 1864.4 620.7 1864.6 624.7 1864.8 C628.6 1865.0 632.6 1865.3 636.6 1865.6 C640.6 1865.8 644.6 1866.1 648.6 1866.4 C652.6 1866.7 656.6 1867.1 660.5 1867.4 C664.5 1867.8 668.5 1868.1 672.5 1868.5 C676.5 1868.9 680.4 1869.3 684.4 1869.7 C688.4 1870.1 692.4 1870.5 696.4 1870.9 C700.3 1871.4 704.3 1871.8 708.3 1872.2 C712.3 1872.7 716.2 1873.1 720.2 1873.6 C724.2 1874.0 728.2 1874.5 732.1 1874.9 C736.1 1875.4 740.1 1875.8 744.0 1876.3 C748.0 1876.8 752.0 1877.3 756.0 1877.8 C759.9 1878.2 763.9 1878.7 767.9 1879.3 C771.8 1879.8 775.8 1880.3 779.8 1880.8 C783.7 1881.3 787.7 1881.9 791.6 1882.4 C795.6 1883.0 799.6 1883.5 803.5 1884.1 C807.5 1884.7 811.4 1885.3 815.4 1885.9 C819.4 1886.4 823.3 1887.0 827.3 1887.7 C831.2 1888.3 835.2 1888.9 839.1 1889.5 C843.1 1890.1 847.0 1890.8 851.0 1891.4 C854.9 1892.0 858.9 1892.7 862.8 1893.3 C866.8 1894.0 870.7 1894.7 874.6 1895.3 C878.6 1896.0 882.5 1896.7 886.5 1897.4 C890.4 1898.1 894.3 1898.8 898.3 1899.5 C902.2 1900.2 906.1 1900.9 910.1 1901.6 C914.0 1902.4 917.9 1903.1 921.9 1903.9 C925.8 1904.6 929.7 1905.4 933.6 1906.2 C937.5 1907.0 941.4 1907.8 945.3 1908.7 C949.2 1909.5 953.1 1910.4 957.0 1911.4 C960.9 1912.3 964.8 1913.3 968.6 1914.3 C972.5 1915.3 976.3 1916.3 980.2 1917.4 C984.0 1918.5 987.8 1919.6 991.7 1920.8 C995.5 1921.9 999.3 1923.1 1003.1 1924.3 C1006.9 1925.5 1010.7 1926.8 1014.5 1928.0 C1018.3 1929.2 1022.1 1930.5 1025.9 1931.7 C1029.7 1933.0 1033.5 1934.2 1037.3 1935.4 C1041.1 1936.6 1044.9 1937.8 1048.8 1938.9 C1052.6 1940.1 1056.4 1941.2 1060.3 1942.3 C1064.1 1943.4 1067.9 1944.4 1071.8 1945.5 C1075.7 1946.5 1079.5 1947.4 1083.4 1948.4 C1087.3 1949.3 1091.2 1950.2 1095.1 1951.1 C1099.0 1952.0 1102.9 1952.9 1106.8 1953.7 C1110.7 1954.5 1114.6 1955.3 1118.5 1956.1 C1122.4 1956.9 1126.4 1957.6 1130.3 1958.3 C1134.2 1959.1 1138.2 1959.8 1142.1 1960.5 C1146.0 1961.1 1150.0 1961.8 1153.9 1962.4 C1157.9 1963.0 1161.8 1963.6 1165.8 1964.2 C1169.7 1964.8 1173.7 1965.3 1177.7 1965.8 C1181.6 1966.4 1185.6 1966.8 1189.6 1967.3 C1193.5 1967.8 1197.5 1968.2 1201.5 1968.7 C1205.5 1969.1 1209.4 1969.5 1213.4 1969.9 C1217.4 1970.3 1221.4 1970.7 1225.4 1971.0 C1229.3 1971.4 1233.3 1971.7 1237.3 1972.0 C1241.3 1972.4 1245.3 1972.7 1249.3 1973.0 C1253.3 1973.3 1257.2 1973.6 1261.2 1973.9 C1265.2 1974.2 1269.2 1974.4 1273.2 1974.7 C1277.2 1974.9 1281.2 1975.2 1285.2 1975.4 C1289.2 1975.6 1293.2 1975.9 1297.1 1976.1 C1301.1 1976.3 1305.1 1976.5 1309.1 1976.7 C1313.1 1976.9 1317.1 1977.0 1321.1 1977.2 C1325.0 1977.4 1329.0 1977.5 1333.0 1977.7 C1337.0 1977.9 1340.9 1978.0 1344.9 1978.1 C1348.8 1978.3 1352.8 1978.4 1356.7 1978.5 C1360.7 1978.7 1364.6 1978.8 1368.5 1978.9 C1372.4 1979.0 1377.0 1979.2 1380.3 1979.3 C1383.5 1979.4 1386.8 1979.5 1388.1 1979.5"/>
</g>
</svg></body></html>
